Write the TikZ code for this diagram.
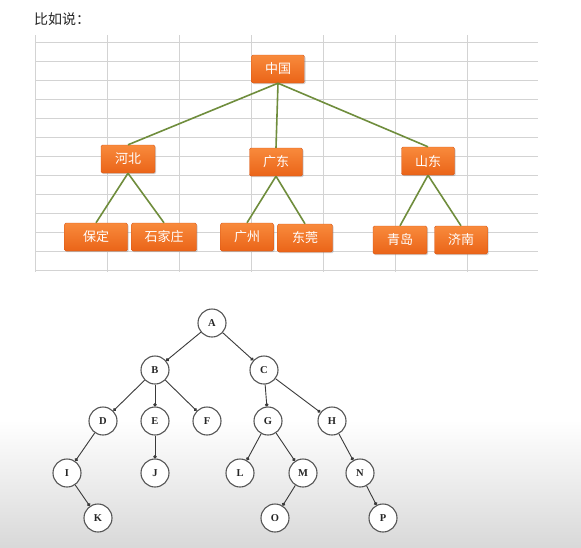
\documentclass[tikz,border=0pt]{standalone}
\usepackage{fontspec}
\setmainfont{Liberation Serif}
\newfontfamily\cjk{Noto Sans CJK SC}
\usetikzlibrary{arrows.meta,shadows}
\definecolor{boxtop}{HTML}{F88A3C}
\definecolor{boxbot}{HTML}{EA6418}
\definecolor{boxline}{HTML}{D9591A}
\definecolor{gridc}{HTML}{D3D3D3}
\definecolor{greenline}{HTML}{6F8D3C}
\definecolor{circlec}{HTML}{555555}
\definecolor{edgec}{HTML}{3A3A3A}
\tikzset{
  obox/.style={rectangle, rounded corners=1.5pt, top color=boxtop, bottom color=boxbot,
    draw=boxline, line width=0.4pt, text=white, font=\cjk\fontsize{13}{13}\selectfont,
    minimum height=28pt, minimum width=54pt, inner sep=0pt,
    drop shadow={shadow xshift=1.2pt, shadow yshift=-1.2pt, opacity=0.35}},
  gline/.style={greenline, line width=1.6pt},
  gridline/.style={gridc, line width=0.8pt},
  tnode/.style={circle, draw=circlec, line width=1.1pt, fill=white, minimum size=28pt,
    inner sep=0pt, font=\fontsize{10.5}{10.5}\selectfont\bfseries, text=black!85},
  tedge/.style={edgec, line width=0.9pt, -{Circle[length=3.4pt]}}
}
\begin{document}
\begin{tikzpicture}[x=1pt,y=-1pt]
\useasboundingbox (0,0) rectangle (581,547);
\fill[white] (0,0) rectangle (581,547);
\shade[top color=white, bottom color=black!15] (0,420) rectangle (581,547);
% title
\node[anchor=west, inner sep=0pt, font=\cjk\fontsize{14}{14}\selectfont, text=black!85] (title) at (34,19) {比如说：};
% spreadsheet grid
\foreach \y in {42,61,...,270} \draw[gridline] (35,\y) -- (538,\y);
\foreach \x in {35,107,...,467} \draw[gridline] (\x,35) -- (\x,272);
% orange boxes
\node[obox, minimum width=53pt] (zg) at (278,69) {中国};
\node[obox] (hb) at (128,159) {河北};
\node[obox, minimum width=53pt] (gd) at (276,162) {广东};
\node[obox, minimum width=53pt] (sd) at (428,161) {山东};
\node[obox, minimum width=63pt] (bd) at (96,237) {保定};
\node[obox, minimum width=65pt] (sjz) at (164,237) {石家庄};
\node[obox, minimum width=53pt] (gz) at (247,237) {广州};
\node[obox, minimum width=55pt] (dg) at (305,238) {东莞};
\node[obox] (qd) at (400,240) {青岛};
\node[obox, minimum width=53pt] (jn) at (461,240) {济南};
\draw[gline] (zg.south) -- (hb.north);
\draw[gline] (zg.south) -- (gd.north);
\draw[gline] (zg.south) -- (sd.north);
\draw[gline] (hb.south) -- (bd.north);
\draw[gline] (hb.south) -- (sjz.north);
\draw[gline] (gd.south) -- (gz.north);
\draw[gline] (gd.south) -- (dg.north);
\draw[gline] (sd.south) -- (qd.north);
\draw[gline] (sd.south) -- (jn.north);
% tree
\node[tnode] (A) at (212,323) {A};
\node[tnode] (B) at (155,370) {B};
\node[tnode] (C) at (264,370) {C};
\node[tnode] (D) at (103,421) {D};
\node[tnode] (E) at (155,421) {E};
\node[tnode] (F) at (207,421) {F};
\node[tnode] (G) at (268,421) {G};
\node[tnode] (H) at (332,421) {H};
\node[tnode] (I) at (67,473) {I};
\node[tnode] (J) at (155,473) {J};
\node[tnode] (L) at (240,473) {L};
\node[tnode] (M) at (303,473) {M};
\node[tnode] (N) at (360,473) {N};
\node[tnode] (K) at (98,518) {K};
\node[tnode] (O) at (275,518) {O};
\node[tnode] (P) at (383,518) {P};
\foreach \a/\b in {A/B,A/C,B/D,B/E,B/F,C/G,C/H,D/I,E/J,G/L,G/M,H/N,I/K,M/O,N/P}
  \draw[tedge] (\a) -- (\b);
\end{tikzpicture}
\end{document}
